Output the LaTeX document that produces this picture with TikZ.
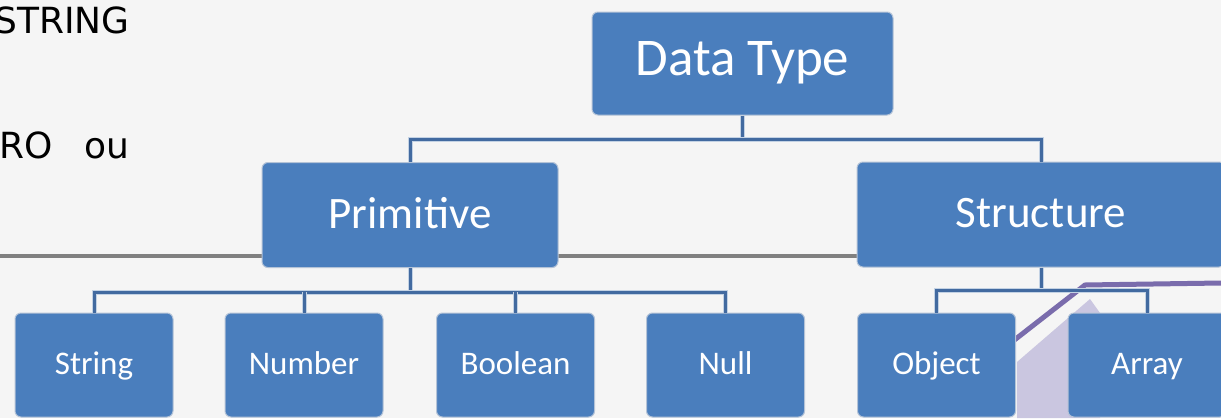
\documentclass[tikz,border=0pt]{standalone}
\usepackage{fontspec}
\setmainfont{Carlito}
\newfontfamily\parafont{DejaVu Sans}
\definecolor{bg}{RGB}{245,245,245}
\definecolor{boxblue}{RGB}{74,126,189}
\definecolor{boxedge}{RGB}{180,195,215}
\definecolor{linkcore}{RGB}{66,106,160}
\definecolor{linkedge}{RGB}{195,210,228}
\definecolor{rulegray}{RGB}{128,128,128}
\definecolor{violetline}{RGB}{122,108,172}
\definecolor{lavender}{RGB}{202,198,224}
\begin{document}
\begin{tikzpicture}[x=1pt,y=-1pt,
  tbox/.style={draw=boxedge, line width=1pt, fill=boxblue, rounded corners=6pt,
               text=white, inner sep=0pt, anchor=center},
  lvl0/.style={tbox, minimum width=301pt, minimum height=103pt,
               font=\fontsize{53}{62}\selectfont, text height=36pt, text depth=13pt},
  lvl1/.style={tbox, minimum width=296pt, minimum height=105pt,
               font=\fontsize{45}{54}\selectfont, text height=34pt, text depth=8pt},
  lvl1wide/.style={lvl1, minimum width=368pt},
  leaf/.style={tbox, minimum width=158pt, minimum height=104pt,
               font=\fontsize{33}{40}\selectfont, text height=24pt, text depth=6pt},
  link/.style={draw=linkedge, line width=1pt, double=linkcore, double distance=3pt},
  para/.style={font=\parafont\fontsize{36}{43}\selectfont, text=black, inner sep=0pt, anchor=base east},
  rule/.style={draw=rulegray, line width=4pt},
  band/.style={draw=violetline, line width=5pt}
]
% canvas
\useasboundingbox (0,0) rectangle (1221,418);
\fill[bg] (0,0) rectangle (1221,418);

% fragments of the surrounding paragraph
\node[para] (txtA) at (130,33) {STRING};
\node[para] (txtB) at (130,158) {RO\hspace{32pt}ou};

% horizontal rule behind the middle row
\coordinate (ruleL) at (0,256);
\coordinate (ruleR) at (858,256);
\draw[rule] (ruleL) -- (ruleR);

% violet decoration behind the structure branch
\fill[lavender] (1017,362) -- (1090,299) -- (1100,313) -- (1100,418) -- (1017,418) -- cycle;
\draw[band] (990,359) -- (1085,285) -- (1221,283);

% boxes
\node[lvl0] (dt) at (742.5,63.5) {Data Type};
\node[lvl1] (prim) at (410,215) {Primitive};
\node[lvl1wide] (struct) at (1041,214.5) {Structure};

\node[leaf] (str)  at (94,365)    {String};
\node[leaf] (num)  at (304,365)   {Number};
\node[leaf] (bool) at (515.5,365) {Boolean};
\node[leaf] (nul)  at (725.5,365) {Null};
\node[leaf] (obj)  at (936.5,365) {Object};
\node[leaf] (arr)  at (1147,365)  {Array};

% connectors
\coordinate (j0) at (742.5,139);
\coordinate (j1) at (410,292);
\coordinate (j2) at (1041,290);

\draw[link] (dt.south) -- (j0);
\draw[link] (prim.north) |- (j0) -| (struct.north);

\draw[link] (prim.south) -- (j1);
\draw[link] (str.north) |- (j1) -| (nul.north);
\draw[link] (num.north) -- (num.north |- j1);
\draw[link] (bool.north) -- (bool.north |- j1);

\draw[link] (struct.south) -- (j2);
\draw[link] (obj.north) |- (j2) -| (arr.north);
\end{tikzpicture}
\end{document}
